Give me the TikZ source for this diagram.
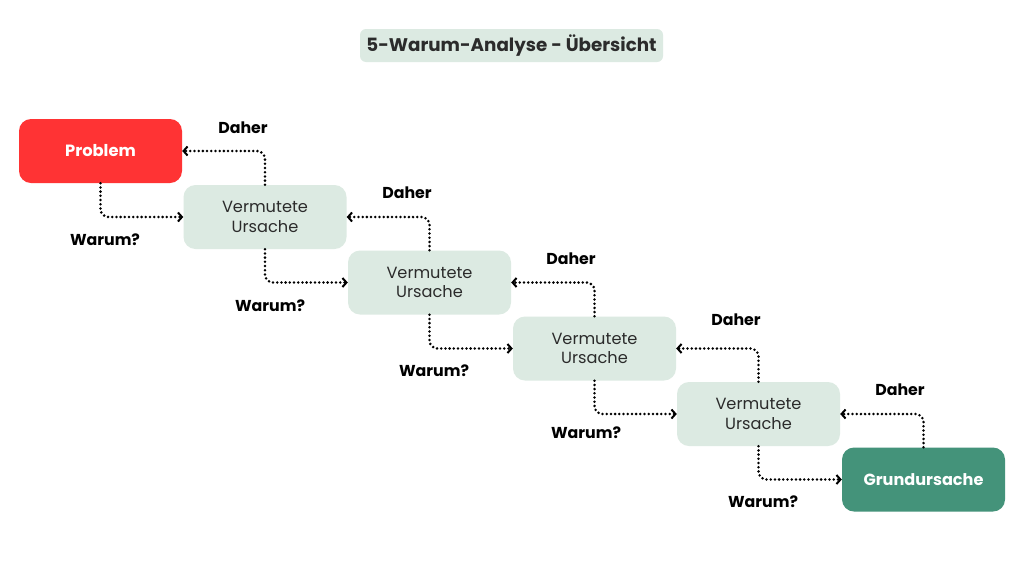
\documentclass[tikz,border=0pt]{standalone}
\usepackage{fontspec}
\setmainfont{Poppins}
\usetikzlibrary{arrows.meta}
\definecolor{boxgreen}{HTML}{DCEAE2}
\definecolor{probred}{HTML}{FF3334}
\definecolor{rootgreen}{HTML}{44937A}
\definecolor{txt}{HTML}{2B2B2B}
\tikzset{
  box/.style={rounded corners=12pt, minimum width=163pt, minimum height=64pt, align=center, inner sep=0pt, font=\fontsize{16.2}{19.5}\selectfont, text=txt},
  cause/.style={box, fill=boxgreen},
  conn/.style={line width=2.8pt, dash pattern=on 0pt off 4.2pt, line cap=round, rounded corners=8pt, -{Straight Barb[length=4pt,width=9pt,line width=2pt]}},
  lbl/.style={font=\fontsize{15.8}{18}\selectfont\bfseries, text=black, inner sep=0pt}
}
\begin{document}
\begin{tikzpicture}[x=1pt,y=-1pt]
\useasboundingbox (0,0) rectangle (1024,576);
\fill[white] (0,0) rectangle (1024,576);
\node[fill=boxgreen, rounded corners=6pt, minimum width=303pt, minimum height=33pt, inner sep=0pt, font=\fontsize{18.3}{22}\selectfont\bfseries, text=txt] (title) at (511.5,45.5) {5-Warum-Analyse - Übersicht};
\node[box, fill=probred, text=white, font=\fontsize{16.3}{19.5}\selectfont\bfseries] (p) at (100.5,151) {Problem};
\node[cause] (v1) at (265,217) {Vermutete\\Ursache};
\node[cause] (v2) at (429.5,282.5) {Vermutete\\Ursache};
\node[cause] (v3) at (594.5,348.5) {Vermutete\\Ursache};
\node[cause] (v4) at (758.5,414) {Vermutete\\Ursache};
\node[box, fill=rootgreen, text=white, font=\fontsize{16.1}{19.5}\selectfont\bfseries] (g) at (923.5,479.5) {Grundursache};
\foreach \a/\b in {p/v1, v1/v2, v2/v3, v3/v4, v4/g}{
  \draw[conn] (\a.south) |- (\b.west);
  \draw[conn] (\b.north) |- (\a.east);
}
\node[lbl] (d1) at (243,128) {Daher};
\node[lbl] (d2) at (407,193) {Daher};
\node[lbl] (d3) at (571,259) {Daher};
\node[lbl] (d4) at (736,320) {Daher};
\node[lbl] (d5) at (900,390) {Daher};
\node[lbl] (w1) at (105,240) {Warum?};
\node[lbl] (w2) at (270,306) {Warum?};
\node[lbl] (w3) at (434,371) {Warum?};
\node[lbl] (w4) at (586,433) {Warum?};
\node[lbl] (w5) at (763,502) {Warum?};
\end{tikzpicture}
\end{document}
